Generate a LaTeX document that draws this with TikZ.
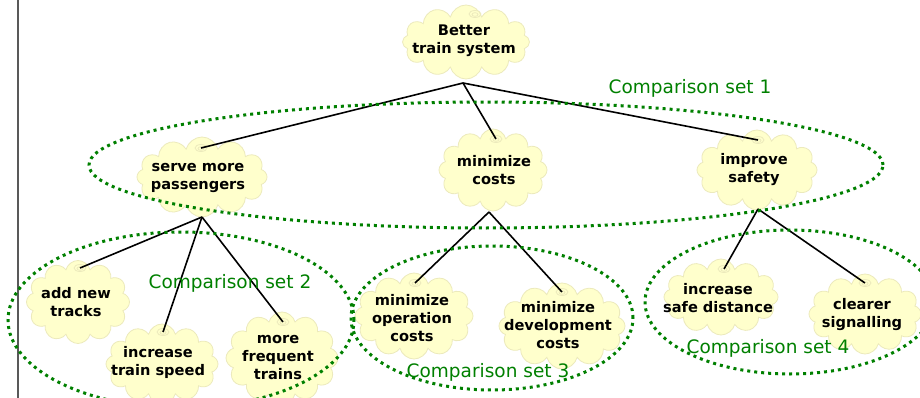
\documentclass[tikz,border=0pt]{standalone}
\usepackage{fontspec}
\setmainfont{DejaVu Sans}
\usetikzlibrary{shapes.symbols,calc}
\definecolor{cloudfill}{RGB}{255,255,204}
\definecolor{cloudline}{RGB}{236,234,188}
\definecolor{setgreen}{RGB}{0,128,0}
\begin{document}
\begin{tikzpicture}[x=1pt,y=-1pt,
  cloudbox/.style={cloud, cloud puffs=12, cloud ignores aspect, fill=cloudfill, draw=cloudline,
    line width=0.8pt, inner sep=0pt},
  goal/.style={align=center, inner sep=0pt,
    font=\bfseries\fontsize{14.6}{18}\selectfont},
  link/.style={line width=1.6pt, black},
  setring/.style={draw=setgreen, line width=3pt, dash pattern=on 3pt off 4pt},
  setlabel/.style={text=setgreen, inner sep=0pt, font=\fontsize{18.5}{20}\selectfont},
  swirl/.style={draw=cloudline, line width=0.8pt}]
\clip (0,0) rectangle (920,398);
\fill[white] (0,0) rectangle (920,398);
\draw[line width=2pt, black!65] (18,0) -- (18,398);

% cloud backgrounds
\node[cloudbox, minimum width=127pt, minimum height=74pt] (top-c) at (466,42) {};
\node[cloudbox, minimum width=130pt, minimum height=80pt] (serve-c) at (202,177) {};
\node[cloudbox, minimum width=108pt, minimum height=82pt] (mincost-c) at (493,170) {};
\node[cloudbox, minimum width=120pt, minimum height=80pt] (safety-c) at (757,170) {};
\node[cloudbox, minimum width=103pt, minimum height=83pt] (addnew-c) at (78,302) {};
\node[cloudbox, minimum width=112pt, minimum height=80pt] (speed-c) at (162,364) {};
\node[cloudbox, minimum width=112pt, minimum height=92pt] (freq-c) at (282,358) {};
\node[cloudbox, minimum width=118pt, minimum height=86pt] (opcost-c) at (414,316) {};
\node[cloudbox, minimum width=126pt, minimum height=86pt] (devcost-c) at (562,326) {};
\node[cloudbox, minimum width=114pt, minimum height=76pt] (safedist-c) at (721,297) {};
\node[cloudbox, minimum width=112pt, minimum height=80pt] (signal-c) at (865,314) {};

% swirl points at the top of each cloud
\coordinate (top-s) at (475,14);
\coordinate (serve-s) at (201,148);
\coordinate (mincost-s) at (496,139);
\coordinate (safety-s) at (758,140);
\coordinate (addnew-s) at (80,268);
\coordinate (speed-s) at (163,332);
\coordinate (freq-s) at (283,322);
\coordinate (opcost-s) at (415,283);
\coordinate (devcost-s) at (562,292);
\coordinate (safedist-s) at (724,269);
\coordinate (signal-s) at (865,283);
\foreach \s in {top-s,serve-s,mincost-s,safety-s,addnew-s,speed-s,freq-s,opcost-s,devcost-s,safedist-s,signal-s}{
  \draw[swirl] (\s) ellipse (6pt and 3.5pt);
  \draw[swirl] ($(\s)+(0,0.5)$) ellipse (3pt and 1.8pt);
}

% texts
\node[goal] (top) at (464,41) {Better\\train system};
\node[goal] (serve) at (198,178) {serve more\\passengers};
\node[goal] (mincost) at (494,170) {minimize\\costs};
\node[goal] (safety) at (754,170) {improve\\safety};
\node[goal] (addnew) at (76,302) {add new\\tracks};
\node[goal] (speed) at (158,362) {increase\\train speed};
\node[goal] (freq) at (278,358) {more\\frequent\\trains};
\node[goal] (opcost) at (412,318) {minimize\\operation\\costs};
\node[goal] (devcost) at (558,325) {minimize\\development\\costs};
\node[goal] (safedist) at (718,298) {increase\\safe distance};
\node[goal] (signal) at (862,315) {clearer\\signalling};

% bottom hubs
\coordinate (top-b) at (463,83);
\coordinate (serve-b) at (202,217);
\coordinate (mincost-b) at (489,212);
\coordinate (safety-b) at (758,209);

% connectors
\draw[link] (top-b) -- (serve-s);
\draw[link] (top-b) -- (mincost-s);
\draw[link] (top-b) -- (safety-s);
\draw[link] (serve-b) -- (addnew-s);
\draw[link] (serve-b) -- (speed-s);
\draw[link] (serve-b) -- (freq-s);
\draw[link] (mincost-b) -- (opcost-s);
\draw[link] (mincost-b) -- (devcost-s);
\draw[link] (safety-b) -- (safedist-s);
\draw[link] (safety-b) -- (signal-s);

% comparison sets
\draw[setring] (486,165) ellipse (397pt and 63pt);
\draw[setring] (181,320) ellipse (173pt and 88pt);
\draw[setring] (492,318) ellipse (141pt and 72pt);
\draw[setring] (790,302) ellipse (145pt and 72pt);

\node[setlabel] (l1) at (690,88) {Comparison set 1};
\node[setlabel] (l2) at (230,283) {Comparison set 2};
\node[setlabel] (l3) at (488,372) {Comparison set 3};
\node[setlabel] (l4) at (768,348) {Comparison set 4};
\end{tikzpicture}
\end{document}
